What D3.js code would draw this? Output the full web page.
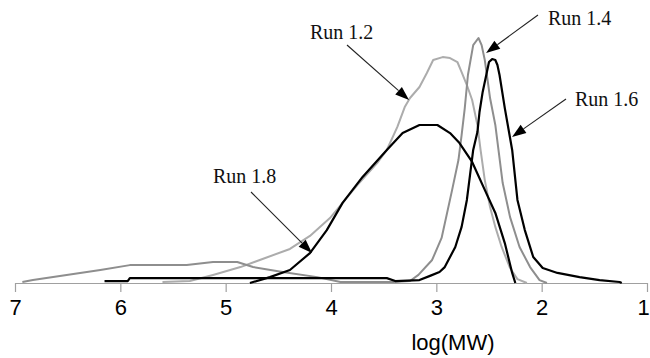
<!DOCTYPE html>
<html>
<head>
<meta charset="utf-8">
<script src="https://cdn.jsdelivr.net/npm/d3@7"></script>
<style>
  html, body { margin: 0; padding: 0; background: #fff; }
  svg { display: block; }
</style>
</head>
<body>
<svg id="chart" width="650" height="358"></svg>
<script>
// Molecular weight distributions, detector response vs log(MW)
const xTicks = [7, 6, 5, 4, 3, 2, 1];

const run12LogMW = [5.60, 5.34, 5.12, 4.86, 4.65, 4.39, 4.20, 4.01, 3.89, 3.75, 3.56, 3.47, 3.37, 3.30, 3.25, 3.16, 3.09, 3.03, 2.94, 2.87, 2.80, 2.76, 2.71, 2.66, 2.61, 2.58, 2.54, 2.49, 2.44, 2.38, 2.30, 2.23, 2.14];
const run12Resp  = [0.004, 0.008, 0.033, 0.065, 0.098, 0.139, 0.192, 0.265, 0.327, 0.400, 0.490, 0.543, 0.637, 0.718, 0.755, 0.800, 0.857, 0.910, 0.922, 0.918, 0.902, 0.861, 0.808, 0.747, 0.645, 0.543, 0.420, 0.310, 0.229, 0.147, 0.061, 0.016, 0.000];

const run14LogMW = [6.93, 6.83, 6.51, 6.19, 5.91, 5.62, 5.37, 5.12, 4.89, 4.74, 4.46, 4.13, 3.91, 3.41, 3.25, 3.17, 3.04, 2.95, 2.85, 2.79, 2.76, 2.73, 2.70, 2.65, 2.60, 2.57, 2.54, 2.52, 2.49, 2.44, 2.41, 2.37, 2.30, 2.21, 2.11, 2.02, 1.95];
const run14Resp  = [0.004, 0.012, 0.033, 0.053, 0.073, 0.073, 0.073, 0.086, 0.086, 0.065, 0.045, 0.024, 0.004, 0.004, 0.008, 0.033, 0.094, 0.184, 0.380, 0.502, 0.604, 0.714, 0.849, 0.971, 1.000, 0.971, 0.910, 0.849, 0.755, 0.645, 0.543, 0.408, 0.269, 0.147, 0.065, 0.012, 0.000];

const run16LogMW = [6.15, 5.93, 5.91, 3.47, 3.39, 3.16, 3.06, 2.97, 2.92, 2.82, 2.76, 2.71, 2.68, 2.65, 2.61, 2.59, 2.56, 2.52, 2.50, 2.47, 2.44, 2.42, 2.40, 2.35, 2.30, 2.28, 2.23, 2.16, 2.08, 1.99, 1.85, 1.64, 1.45, 1.26, 1.24];
const run16Resp  = [0.008, 0.008, 0.020, 0.020, 0.008, 0.012, 0.029, 0.045, 0.065, 0.147, 0.229, 0.339, 0.441, 0.543, 0.616, 0.698, 0.780, 0.861, 0.902, 0.914, 0.910, 0.890, 0.849, 0.714, 0.592, 0.543, 0.339, 0.216, 0.106, 0.061, 0.041, 0.024, 0.012, 0.004, 0.000];

const run18LogMW = [4.77, 4.58, 4.39, 4.20, 4.04, 3.89, 3.70, 3.47, 3.32, 3.16, 2.99, 2.87, 2.78, 2.66, 2.54, 2.44, 2.35, 2.28, 2.25];
const run18Resp  = [0.000, 0.024, 0.053, 0.122, 0.216, 0.327, 0.433, 0.543, 0.612, 0.645, 0.645, 0.612, 0.571, 0.494, 0.380, 0.286, 0.163, 0.041, 0.000];

const runNames = ["Run 1.2", "Run 1.4", "Run 1.6", "Run 1.8"];

// Assemble series for drawing
const series = [
  { name: runNames[0], x: run12LogMW, y: run12Resp, color: "#acacac", width: 2 },
  { name: runNames[1], x: run14LogMW, y: run14Resp, color: "#8e8e8e", width: 2 },
  { name: runNames[2], x: run16LogMW, y: run16Resp, color: "#000000", width: 2.2 },
  { name: runNames[3], x: run18LogMW, y: run18Resp, color: "#000000", width: 2.2 }
];

const svg = d3.select("#chart");

const x = d3.scaleLinear().domain([7, 1]).range([15, 647]);
const y = d3.scaleLinear().domain([0, 1]).range([283, 38]);

// Axis
const axis = d3.axisBottom(x)
  .tickValues(xTicks)
  .tickFormat(d3.format("d"))
  .tickSize(9)
  .tickPadding(7)
  .tickSizeOuter(0);

const gAxis = svg.append("g")
  .attr("transform", `translate(0,${y(0)})`)
  .call(axis);
gAxis.select(".domain").attr("stroke", "#a0a0a0").attr("stroke-width", 1.2);
gAxis.selectAll(".tick line").attr("stroke", "#a0a0a0").attr("stroke-width", 1.2);
gAxis.selectAll(".tick text")
  .attr("fill", "#000")
  .attr("dx", d => d === 1 ? -4 : 0)
  .style("font-family", "'Liberation Sans', Arial, sans-serif")
  .style("font-size", "22px");

svg.append("text")
  .attr("x", 453)
  .attr("y", 350)
  .attr("text-anchor", "middle")
  .style("font-family", "'Liberation Sans', Arial, sans-serif")
  .style("font-size", "22px")
  .attr("fill", "#000")
  .text("log(MW)");

// Curves
const line = d3.line()
  .x(d => x(d[0]))
  .y(d => y(d[1]))
  .curve(d3.curveLinear);

svg.append("g")
  .selectAll("path")
  .data(series)
  .join("path")
  .attr("fill", "none")
  .attr("stroke", d => d.color)
  .attr("stroke-width", d => d.width)
  .attr("stroke-linejoin", "round")
  .attr("d", d => line(d.x.map((v, i) => [v, d.y[i]])));

// Callouts: label position, arrow start, and the point on the curve it targets
const callouts = [
  { text: runNames[0], tx: 310, ty: 39,  sx: 347, sy: 45,  logMW: 3.259, resp: 0.747 },
  { text: runNames[1], tx: 548, ty: 25,  sx: 538, sy: 15,  logMW: 2.528, resp: 0.939 },
  { text: runNames[2], tx: 575, ty: 106, sx: 566, sy: 99,  logMW: 2.281, resp: 0.596 },
  { text: runNames[3], tx: 213, ty: 183, sx: 251, sy: 192, logMW: 4.180, resp: 0.122 }
];

const gC = svg.append("g");
callouts.forEach(c => {
  const ex = x(c.logMW), ey = y(c.resp);
  const ang = Math.atan2(ey - c.sy, ex - c.sx);
  const headLen = 14, headHalf = 5;
  const bx = ex - headLen * Math.cos(ang), by = ey - headLen * Math.sin(ang);
  gC.append("line")
    .attr("x1", c.sx).attr("y1", c.sy)
    .attr("x2", bx).attr("y2", by)
    .attr("stroke", "#222").attr("stroke-width", 1.1);
  const px = -Math.sin(ang), py = Math.cos(ang);
  gC.append("path")
    .attr("d", `M${ex},${ey}L${bx + px * headHalf},${by + py * headHalf}L${bx - px * headHalf},${by - py * headHalf}Z`)
    .attr("fill", "#000");
  gC.append("text")
    .attr("x", c.tx).attr("y", c.ty)
    .style("font-family", "'Liberation Serif', 'Times New Roman', serif")
    .style("font-size", "20px")
    .attr("fill", "#111")
    .text(c.text);
});
</script>
</body>
</html>
